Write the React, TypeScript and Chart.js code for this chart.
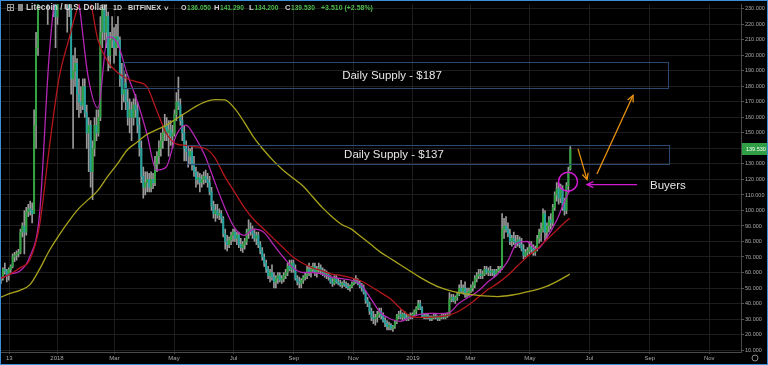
import React, { useEffect, useRef } from "react";
import { Chart, registerables } from "chart.js";

Chart.register(...registerables);

// Days are counted from 2018-01-01. Each candle spans two trading days; the first starts 2017-11-04.
const FIRST_CANDLE_DAY = -58;
const CANDLE_SPAN = 2;

const OPEN = [
  55, 56, 62, 61, 58, 62, 64, 70, 71, 72,
  73, 86, 90, 86, 99, 101, 100, 98, 155, 205,
  290, 300, 320, 330, 290, 270, 275, 255, 240, 225,
  245, 255, 280, 260, 245, 240, 230, 185, 190, 195,
  175, 170, 168, 180, 163, 150, 155, 125, 140, 155,
  150, 160, 215, 230, 215, 225, 200, 210, 212, 205,
  212, 210, 185, 175, 182, 170, 160, 165, 160, 168,
  165, 155, 140, 122, 115, 118, 120, 115, 120, 118,
  130, 135, 140, 145, 150, 155, 150, 152, 148, 150,
  162, 170, 168, 158, 150, 140, 138, 135, 138, 130,
  125, 120, 121, 118, 120, 122, 120, 118, 112, 103,
  98, 100, 97, 98, 95, 85, 80, 78, 81, 84,
  86, 82, 84, 78, 76, 78, 80, 86, 88, 87,
  85, 82, 84, 78, 74, 70, 66, 62, 58, 60,
  57, 54, 56, 58, 55, 56, 58, 60, 64, 62,
  66, 62, 56, 54, 53, 55, 57, 58, 62, 60,
  62, 64, 60, 62, 63, 61, 60, 58, 59, 57,
  54, 53, 56, 54, 53, 52, 53, 52, 51, 50,
  51, 53, 55, 54, 53, 51, 50, 47, 42, 40,
  35, 31, 30, 31, 33, 35, 32, 29, 27, 25,
  26, 24, 25, 28, 32, 33, 31, 33, 31, 30,
  32, 31, 33, 35, 37, 40, 37, 32, 31, 32,
  31, 30, 31, 32, 31, 30, 31, 32, 31, 32,
  33, 43, 44, 42, 44, 46, 50, 48, 50, 46,
  47, 48, 50, 52, 56, 58, 59, 58, 59, 62,
  60, 61, 60, 61, 59, 61, 62, 63, 88, 90,
  88, 85, 80, 82, 80, 79, 81, 78, 75, 71,
  73, 74, 76, 75, 73, 75, 82, 86, 88, 98,
  86, 90, 94, 92, 102, 110, 114, 108, 114, 104,
  100, 116, 127,
];
const HIGH = [
  57, 63, 66, 62, 63, 65, 72, 73, 74, 75,
  88, 92, 100, 102, 104, 106, 105, 165, 215, 340,
  320, 330, 370, 340, 300, 290, 285, 260, 245, 250,
  260, 290, 295, 265, 250, 250, 235, 200, 205, 198,
  185, 180, 185, 185, 168, 160, 158, 145, 160, 165,
  165, 225, 240, 255, 240, 228, 215, 225, 218, 220,
  225, 212, 195, 190, 188, 178, 172, 170, 172, 175,
  170, 160, 145, 128, 125, 125, 124, 125, 124, 135,
  138, 145, 150, 155, 162, 160, 158, 158, 155, 165,
  176, 186, 172, 162, 155, 145, 142, 140, 142, 135,
  128, 125, 124, 123, 125, 126, 124, 122, 115, 106,
  104, 104, 101, 100, 96, 88, 84, 83, 86, 88,
  88, 86, 86, 82, 80, 82, 88, 94, 92, 90,
  88, 86, 86, 80, 76, 72, 68, 64, 62, 65,
  60, 58, 60, 60, 58, 60, 62, 66, 68, 68,
  68, 65, 58, 57, 56, 58, 60, 64, 66, 64,
  66, 66, 64, 66, 65, 63, 62, 61, 60, 58,
  56, 58, 58, 56, 55, 54, 55, 54, 53, 52,
  54, 56, 58, 56, 55, 53, 52, 48, 44, 41,
  37, 35, 33, 35, 37, 37, 34, 31, 29, 28,
  27, 26, 29, 33, 35, 36, 34, 35, 33, 33,
  34, 34, 36, 38, 42, 42, 38, 33, 33, 33,
  32, 32, 33, 33, 32, 32, 33, 33, 33, 34,
  47, 46, 46, 45, 47, 52, 55, 52, 54, 50,
  50, 52, 54, 58, 60, 62, 62, 61, 64, 64,
  63, 64, 62, 62, 62, 64, 64, 98, 95, 96,
  92, 88, 84, 86, 84, 84, 83, 82, 78, 75,
  76, 80, 80, 78, 77, 84, 88, 92, 101, 100,
  92, 96, 98, 104, 112, 118, 118, 117, 116, 108,
  118, 128, 141.29,
];
const LOW = [
  53, 55, 59, 54, 55, 60, 63, 67, 68, 70,
  72, 83, 72, 84, 96, 97, 92, 98, 140, 200,
  270, 290, 310, 270, 220, 250, 250, 225, 205, 220,
  235, 245, 250, 230, 215, 225, 175, 140, 180, 165,
  160, 163, 165, 160, 140, 125, 115, 107, 135, 145,
  148, 158, 205, 210, 205, 190, 192, 205, 195, 200,
  205, 180, 165, 170, 165, 155, 150, 145, 155, 160,
  150, 135, 118, 108, 110, 112, 112, 112, 114, 116,
  125, 130, 135, 140, 145, 145, 135, 142, 140, 148,
  158, 165, 155, 145, 132, 132, 128, 130, 126, 122,
  115, 117, 112, 115, 117, 118, 115, 110, 100, 95,
  93, 95, 94, 92, 83, 75, 74, 76, 78, 80,
  80, 78, 76, 74, 73, 75, 78, 82, 84, 82,
  80, 78, 76, 72, 68, 64, 60, 56, 54, 55,
  50, 50, 53, 54, 53, 54, 56, 58, 61, 60,
  60, 55, 52, 50, 50, 53, 55, 56, 58, 57,
  60, 58, 57, 60, 59, 58, 57, 56, 55, 53,
  51, 52, 53, 52, 51, 50, 51, 50, 49, 48,
  50, 52, 53, 52, 50, 48, 46, 40, 38, 33,
  29, 27, 26, 28, 31, 30, 28, 25, 23, 23,
  23, 22, 24, 27, 30, 30, 29, 30, 29, 29,
  30, 30, 32, 33, 36, 36, 31, 30, 30, 30,
  29, 29, 30, 30, 29, 29, 30, 30, 30, 31,
  32, 41, 41, 40, 42, 45, 47, 46, 44, 44,
  45, 47, 48, 50, 54, 56, 56, 56, 58, 59,
  58, 58, 58, 57, 58, 60, 60, 62, 82, 86,
  83, 78, 77, 78, 76, 77, 76, 74, 69, 70,
  71, 72, 73, 71, 71, 74, 79, 80, 86, 80,
  82, 86, 88, 90, 100, 106, 104, 105, 100, 97,
  98, 112, 126,
];
const CLOSE = [
  56, 62, 61, 58, 62, 64, 70, 71, 72, 73,
  86, 90, 86, 99, 101, 100, 98, 155, 205, 290,
  300, 320, 330, 290, 270, 275, 255, 240, 225, 245,
  255, 280, 260, 245, 240, 230, 185, 190, 195, 175,
  170, 168, 180, 163, 150, 155, 125, 140, 155, 150,
  160, 215, 230, 215, 225, 200, 210, 212, 205, 212,
  210, 185, 175, 182, 170, 160, 165, 160, 168, 165,
  155, 140, 122, 115, 118, 120, 115, 120, 118, 130,
  135, 140, 145, 150, 155, 150, 152, 148, 150, 162,
  170, 168, 158, 150, 140, 138, 135, 138, 130, 125,
  120, 121, 118, 120, 122, 120, 118, 112, 103, 98,
  100, 97, 98, 95, 85, 80, 78, 81, 84, 86,
  82, 84, 78, 76, 78, 80, 86, 88, 87, 85,
  82, 84, 78, 74, 70, 66, 62, 58, 60, 57,
  54, 56, 58, 55, 56, 58, 60, 64, 62, 66,
  62, 56, 54, 53, 55, 57, 58, 62, 60, 62,
  64, 60, 62, 63, 61, 60, 58, 59, 57, 54,
  53, 56, 54, 53, 52, 53, 52, 51, 50, 51,
  53, 55, 54, 53, 51, 50, 47, 42, 40, 35,
  31, 30, 31, 33, 35, 32, 29, 27, 25, 26,
  24, 25, 28, 32, 33, 31, 33, 31, 30, 32,
  31, 33, 35, 37, 40, 37, 32, 31, 32, 31,
  30, 31, 32, 31, 30, 31, 32, 31, 32, 33,
  43, 44, 42, 44, 46, 50, 48, 50, 46, 47,
  48, 50, 52, 56, 58, 59, 58, 59, 62, 60,
  61, 60, 61, 59, 61, 62, 63, 88, 90, 88,
  85, 80, 82, 80, 79, 81, 78, 75, 71, 73,
  74, 76, 75, 73, 75, 82, 86, 88, 98, 86,
  90, 94, 92, 102, 110, 114, 108, 114, 104, 100,
  116, 125, 139.53,
];

// Moving averages, sampled every 10 days (day offsets from 2018-01-01)
const MA_DAYS = [
  -58, -48, -38, -28, -18, -8, 2, 12, 22, 32,
  42, 52, 62, 72, 82, 92, 102, 112, 122, 132,
  142, 152, 162, 172, 182, 192, 202, 212, 222, 232,
  242, 252, 262, 272, 282, 292, 302, 312, 322, 332,
  342, 352, 362, 372, 382, 392, 402, 412, 422, 432,
  442, 452, 462, 472, 482, 492, 502, 512, 522, 526,
];
const MA_FAST = [
  56, 59, 61, 70, 97, 200, 255, 262, 236, 186,
  166, 212, 208, 188, 171, 150, 126, 128, 148, 155,
  147, 135, 118, 102, 89, 84, 88, 86, 78, 70,
  63, 60, 60, 59, 57, 56, 55, 52, 43, 34,
  30, 28.5, 31, 33, 33.6, 33.5, 34, 40, 44, 48,
  54, 59, 67, 79, 80, 75, 82, 93, 108, 113,
];
const MA_MID = [
  56, 59, 63, 68, 90, 140, 185, 210, 232, 238,
  210, 196, 189, 185, 183, 180, 165, 150, 143, 142,
  141, 140, 134, 122, 112, 102, 94, 88, 82, 76,
  70, 66, 63, 61, 59, 58, 56.5, 54.5, 51, 47,
  43, 37, 32, 31, 31, 31.5, 32.5, 35, 39, 44,
  49, 53, 58, 64, 70, 75, 81, 87, 93, 95,
];
const MA_SLOW = [
  44, 46.5, 48.5, 52, 62, 74, 84, 93, 101, 107,
  113, 122, 130, 139, 144, 149, 152, 155, 159, 163,
  167, 170, 171.5, 171.3, 166, 157, 147, 139, 132, 126,
  121, 116, 109, 102, 96, 91, 88, 83, 78, 73,
  69, 65, 61, 57, 53.5, 50.5, 48.5, 47, 46, 45.2,
  44.7, 44.5, 45, 46, 47.5, 49, 51, 54, 57.5, 59,
];

const X_TICK_DAYS = [-49, 0, 59, 120, 181, 243, 304, 365, 424, 485, 546, 608, 669];
const X_TICK_LABELS = ["13", "2018", "Mar", "May", "Jul", "Sep", "Nov", "2019", "Mar", "May", "Jul", "Sep", "Nov"];
const Y_TICKS = [10, 20, 30, 40, 50, 60, 70, 80, 90, 100, 110, 120, 130, 140, 150, 160, 170, 180, 190, 200, 210, 220, 230];
const LAST_PRICE = 139.53;

const HEADER_TITLE = ["Litecoin / U.S. Dollar", "1D", "BITFINEX"];
const HEADER_OHLC: [string, string][] = [["O", "136.050"], ["H", "141.290"], ["L", "134.200"], ["C", "139.530"]];
const HEADER_CHANGE = "+3.510 (+2.58%)";

const SUPPLY_ZONES = [
  { label: "Daily Supply - $187", d0: 67.7, d1: 626.7, lo: 179.3, hi: 196, textDay: 343.6, textPrice: 187 },
  { label: "Daily Supply - $137", d0: 133, d1: 627.7, lo: 130, hi: 142, textDay: 345.6, textPrice: 136 },
];
const ORANGE_ARROWS = [
  { from: [534.4, 139.7], to: [543.6, 119.9] },
  { from: [553.8, 123.6], to: [590.8, 174.2] },
];
const BUYERS_ARROW = { from: [594.9, 116.7], to: [543.6, 116.7] };
const BUYERS_CIRCLE = { day: 524.1, price: 118.6, r: 9.5 };
const BUYERS_LABEL = { text: "Buyers", day: 608.2, price: 116 };

const FONT = '"Liberation Sans", Arial, sans-serif';

function drawArrow(ctx: CanvasRenderingContext2D, x0: number, y0: number, x1: number, y1: number, color: string, w = 1.3, head = 7) {
  ctx.strokeStyle = color;
  ctx.lineWidth = w;
  ctx.beginPath();
  ctx.moveTo(x0, y0);
  ctx.lineTo(x1, y1);
  ctx.stroke();
  const a = Math.atan2(y1 - y0, x1 - x0);
  ctx.beginPath();
  ctx.moveTo(x1 - head * Math.cos(a - 0.45), y1 - head * Math.sin(a - 0.45));
  ctx.lineTo(x1, y1);
  ctx.lineTo(x1 - head * Math.cos(a + 0.45), y1 - head * Math.sin(a + 0.45));
  ctx.stroke();
}

// draw text so that it spans roughly the given width
function fitText(ctx: CanvasRenderingContext2D, text: string, x: number, y: number, w: number, weight: string, maxSize: number) {
  ctx.font = `${weight} 10px ${FONT}`;
  const m = ctx.measureText(text).width;
  const size = Math.min(maxSize, (10 * w) / m);
  ctx.font = `${weight} ${size.toFixed(2)}px ${FONT}`;
  ctx.fillText(text, x, y);
  return ctx.measureText(text).width;
}

const bgPlugin = {
  id: "bg",
  beforeDraw(chart: any) {
    const { ctx, width, height } = chart;
    ctx.save();
    ctx.fillStyle = "#000000";
    ctx.fillRect(0, 0, width, height);
    ctx.restore();
  },
};

const annotPlugin = {
  id: "annot",
  afterDatasetsDraw(chart: any) {
    const { ctx, chartArea } = chart;
    const xs = chart.scales.x;
    const ys = chart.scales.y;
    const X = (d: number) => xs.getPixelForValue(d);
    const Y = (v: number) => ys.getPixelForValue(v);
    ctx.save();
    ctx.beginPath();
    ctx.rect(chartArea.left, chartArea.top, chartArea.right - chartArea.left, chartArea.bottom - chartArea.top);
    ctx.clip();
    SUPPLY_ZONES.forEach((b) => {
      const x0 = Math.round(X(b.d0)) + 0.5;
      const x1 = Math.round(X(b.d1)) + 0.5;
      const y0 = Math.round(Y(b.hi)) + 0.5;
      const y1 = Math.round(Y(b.lo)) + 0.5;
      ctx.strokeStyle = "#2c4870";
      ctx.lineWidth = 1;
      ctx.strokeRect(x0, y0, x1 - x0, y1 - y0);
      ctx.fillStyle = "#e6e6e6";
      ctx.font = `11.5px ${FONT}`;
      ctx.textAlign = "center";
      ctx.textBaseline = "middle";
      ctx.fillText(b.label, X(b.textDay), Y(b.textPrice));
    });
    ORANGE_ARROWS.forEach((a) => {
      drawArrow(ctx, X(a.from[0]), Y(a.from[1]), X(a.to[0]), Y(a.to[1]), "#e8920e", 1.3, 7);
    });
    drawArrow(ctx, X(BUYERS_ARROW.from[0]), Y(BUYERS_ARROW.from[1]), X(BUYERS_ARROW.to[0]), Y(BUYERS_ARROW.to[1]), "#d21ad2", 1.3, 7);
    ctx.strokeStyle = "#d21ad2";
    ctx.lineWidth = 1.5;
    ctx.beginPath();
    ctx.arc(X(BUYERS_CIRCLE.day), Y(BUYERS_CIRCLE.price), BUYERS_CIRCLE.r, 0, Math.PI * 2);
    ctx.stroke();
    ctx.fillStyle = "#e6e6e6";
    ctx.font = `11.5px ${FONT}`;
    ctx.textAlign = "left";
    ctx.textBaseline = "middle";
    ctx.fillText(BUYERS_LABEL.text, X(BUYERS_LABEL.day), Y(BUYERS_LABEL.price));
    ctx.restore();
  },
  afterDraw(chart: any) {
    const { ctx, width, height, chartArea } = chart;
    const ys = chart.scales.y;
    ctx.save();
    // last price tag
    const py = Math.round(ys.getPixelForValue(LAST_PRICE));
    ctx.fillStyle = "#2f9e44";
    ctx.fillRect(chartArea.right + 1, py - 6, width - chartArea.right - 2, 12);
    ctx.fillStyle = "#ffffff";
    ctx.font = `5.5px ${FONT}`;
    ctx.textAlign = "left";
    ctx.textBaseline = "middle";
    ctx.fillText(LAST_PRICE.toFixed(3), chartArea.right + 5, py);
    // header
    ctx.strokeStyle = "#9a9a9a";
    ctx.lineWidth = 1;
    ctx.strokeRect(7.5, 4.5, 6, 6);
    ctx.beginPath();
    ctx.moveTo(10.5, 5.5); ctx.lineTo(10.5, 10);
    ctx.moveTo(8, 7.5); ctx.lineTo(13, 7.5);
    ctx.stroke();
    ctx.fillStyle = "#8a8a8a";
    ctx.fillRect(18, 4, 5, 7);
    ctx.textBaseline = "middle";
    const hy = 8;
    const grey = "#d2d2d2";
    const green = "#4cbb4c";
    ctx.fillStyle = grey;
    fitText(ctx, HEADER_TITLE[0], 26, hy, 81, "600", 9);
    fitText(ctx, HEADER_TITLE[1], 113, hy, 9, "600", 8.5);
    fitText(ctx, HEADER_TITLE[2], 128, hy, 33, "600", 8.5);
    ctx.font = `600 8px ${FONT}`;
    ctx.fillText("\u02C5", 164, hy + 1);
    const starts = [181, 214, 249, 285];
    HEADER_OHLC.forEach(([k, v], i) => {
      const x = starts[i];
      ctx.fillStyle = grey;
      const kw = fitText(ctx, k, x, hy, 5.5, "600", 8);
      ctx.fillStyle = green;
      fitText(ctx, v, x + kw + 0.5, hy, 24, "600", 8);
    });
    ctx.fillStyle = green;
    fitText(ctx, HEADER_CHANGE, 321, hy, 52, "600", 8);
    // gear icon
    ctx.strokeStyle = "#8a8a8a";
    ctx.beginPath();
    ctx.arc(755, 358, 3, 0, Math.PI * 2);
    ctx.stroke();
    // frame
    ctx.strokeStyle = "#3b8fd8";
    ctx.lineWidth = 1;
    ctx.strokeRect(0.5, 0.5, width - 1, height - 1);
    ctx.restore();
  },
};

export default function App() {
  const ref = useRef<HTMLCanvasElement>(null);
  useEffect(() => {
    document.body.style.margin = "0";
    document.body.style.background = "#000";
    const canvas = ref.current!;
    Chart.defaults.font.family = FONT;
    const days = OPEN.map((_, i) => FIRST_CANDLE_DAY + CANDLE_SPAN * i + 0.5);
    const wickData = days.map((d, i) => ({ x: d, y: [LOW[i], HIGH[i]] }));
    const bodyData = days.map((d, i) => ({ x: d, y: [OPEN[i], CLOSE[i]] }));
    const bodyColors = OPEN.map((o, i) => (CLOSE[i] >= o ? "#2fa53f" : "#21a3a0"));
    const line = (vals: number[], color: string) => ({
      type: "line" as const,
      data: MA_DAYS.map((d, i) => ({ x: d, y: vals[i] })),
      borderColor: color,
      borderWidth: 1.3,
      pointRadius: 0,
      cubicInterpolationMode: "monotone" as const,
      fill: false,
      order: 0,
    });
    const chart = new Chart(canvas, {
      type: "bar",
      data: {
        datasets: [
          line(MA_SLOW, "#a9a31c"),
          line(MA_MID, "#b3171b"),
          line(MA_FAST, "#b526b5"),
          {
            type: "bar",
            data: wickData as any,
            backgroundColor: "#9a9a9a",
            barThickness: 1,
            grouped: false,
            order: 2,
          },
          {
            type: "bar",
            data: bodyData as any,
            backgroundColor: bodyColors,
            barThickness: 1.3,
            grouped: false,
            order: 1,
          },
        ] as any,
      },
      options: {
        responsive: false,
        animation: false,
        devicePixelRatio: 1,
        layout: { padding: { left: 1, top: 1, right: 0, bottom: 1 } },
        plugins: { legend: { display: false }, tooltip: { enabled: false } },
        scales: {
          x: {
            type: "linear",
            min: -57.44,
            max: 701.54,
            offset: false,
            grid: { color: "#1d1d1d", offset: false, tickLength: 2, tickColor: "#444" },
            border: { display: true, color: "#4a4a4a" },
            afterBuildTicks: (s: any) => {
              s.ticks = X_TICK_DAYS.map((v) => ({ value: v }));
            },
            afterFit: (s: any) => {
              s.height = 12;
            },
            ticks: {
              autoSkip: false,
              maxRotation: 0,
              padding: 1,
              color: "#a8a8a8",
              font: { size: 6 },
              callback: (_v: any, i: number) => X_TICK_LABELS[i],
            },
          },
          y: {
            type: "linear",
            position: "right",
            min: 8.72,
            max: 233.0,
            grid: { color: "#1d1d1d", tickLength: 3, tickColor: "#555" },
            border: { display: true, color: "#4a4a4a" },
            afterBuildTicks: (s: any) => {
              s.ticks = Y_TICKS.map((v) => ({ value: v }));
            },
            afterFit: (s: any) => {
              s.width = 27;
            },
            ticks: {
              autoSkip: false,
              padding: 1,
              color: "#a8a8a8",
              font: { size: 5.5 },
              callback: (v: any) => Number(v).toFixed(3),
            },
          },
        },
      } as any,
      plugins: [bgPlugin, annotPlugin],
    });
    return () => chart.destroy();
  }, []);
  return (
    <div style={{ position: "fixed", left: 0, top: 0, width: 768, height: 365 }}>
      <canvas ref={ref} width={768} height={365} style={{ display: "block" }} />
    </div>
  );
}
